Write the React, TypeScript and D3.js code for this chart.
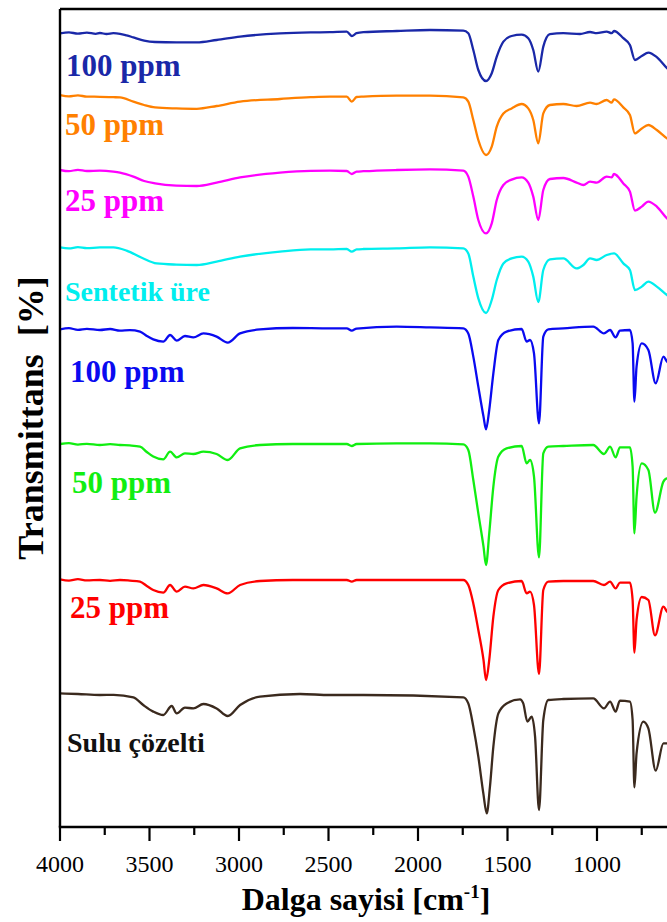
import React from 'react';
import * as d3 from 'd3';

// ---------- data ----------
const majorTicks = [4000, 3500, 3000, 2500, 2000, 1500, 1000, 500];
const tickLabels = [4000, 3500, 3000, 2500, 2000, 1500, 1000];
const minorTicks = [3750, 3250, 2750, 2250, 1750, 1250, 750];

const seriesNames = ['100 ppm', '50 ppm', '25 ppm', 'Sentetik üre', '100 ppm', '50 ppm', '25 ppm', 'Sulu çözelti'];
// vertical offsets of stacked spectra (a.u.)
const offsets = [298, 265.5, 228.5, 190, 150, 92, 24, -33.5];

// [wavenumber (cm-1), transmittance (%)]
const synth100: [number, number][] = [
  [4000, 98.8], [3950, 99.3], [3900, 98.7], [3850, 99.2], [3800, 98.6], [3777, 99.0], [3740, 98.5], [3702, 98.9],
  [3665, 98.6], [3628, 97.8], [3590, 96.8], [3530, 95.2], [3469, 94.5], [3350, 94.3], [3236, 94.3], [3125, 95.5],
  [2994, 97.2], [2771, 98.8], [2600, 99.3], [2492, 99.4], [2398, 99.7], [2370, 97.5], [2343, 98.9], [2305, 99.4],
  [2119, 100], [1933, 100.5], [1747, 100.2], [1719, 98.9], [1691, 90.5], [1663, 80.5], [1620, 75], [1588, 78.9],
  [1560, 87.2], [1523, 94.7], [1477, 97.5], [1421, 98.2], [1384, 96.4], [1356, 90.5], [1328, 79.7], [1300, 92.2],
  [1263, 98.4], [1188, 98.9], [1095, 98.5], [1039, 99.5], [1002, 98.9], [946, 99.7], [918, 98.9], [905, 100],
  [853, 96.4], [816, 93], [788, 85.5], [750, 87.5], [713, 89.2], [666, 86.9], [609, 81.4], [560, 78],
];
const synth50: [number, number][] = [
  [4000, 100.5], [3950, 99.8], [3900, 100.3], [3850, 99.7], [3777, 99.6], [3702, 99.4], [3665, 99.3], [3590, 97.2],
  [3530, 95.5], [3469, 94.3], [3350, 93.8], [3236, 93.6], [3125, 95], [2994, 97.2], [2771, 98.5], [2600, 99.4],
  [2492, 99.7], [2398, 99.7], [2370, 97.2], [2343, 99.5], [2305, 99.7], [2119, 100.2], [1933, 100.2], [1747, 99.3],
  [1719, 97.2], [1691, 88], [1663, 78], [1620, 70.5], [1588, 74.7], [1560, 84.7], [1523, 91.3], [1477, 93.8],
  [1421, 96], [1384, 93.8], [1356, 88], [1328, 76.3], [1300, 91.3], [1263, 95.5], [1188, 96], [1114, 95],
  [1039, 96.7], [1002, 96], [946, 98], [918, 96.7], [905, 98.3], [853, 94.3], [816, 90.5], [788, 81.3],
  [750, 83.8], [713, 85.5], [666, 83], [609, 78.8], [560, 76],
];
const synth25: [number, number][] = [
  [4000, 100], [3950, 99.4], [3900, 100.1], [3850, 99.5], [3777, 99.7], [3702, 99.2], [3665, 98.7], [3590, 96.7],
  [3530, 94.5], [3469, 93.3], [3350, 92.2], [3236, 92], [3125, 93.7], [2994, 96.3], [2771, 98.7], [2600, 99.6],
  [2492, 99.7], [2398, 99.5], [2370, 98], [2343, 99.2], [2305, 99.4], [2119, 100], [1933, 100.3], [1747, 99.7],
  [1719, 96.7], [1691, 86.7], [1663, 75], [1620, 68.3], [1588, 73.3], [1560, 85], [1523, 92.5], [1477, 95.2],
  [1421, 96.3], [1384, 93.7], [1356, 86.7], [1328, 75], [1300, 90], [1263, 95.5], [1188, 96], [1114, 93.7],
  [1076, 92.5], [1039, 94.2], [1002, 93.7], [946, 96.7], [918, 96.3], [905, 98], [853, 93.3], [816, 89.2],
  [788, 79.7], [750, 81.7], [713, 84.2], [666, 81.7], [609, 75.8], [560, 73],
];
const synthUrea: [number, number][] = [
  [4000, 99.8], [3950, 99.3], [3900, 99.9], [3850, 99.4], [3777, 99.8], [3702, 99.8], [3628, 98.2], [3540, 94.5],
  [3460, 91.8], [3350, 91.2], [3236, 91], [3125, 92.7], [2994, 95.2], [2771, 97.7], [2600, 98.8], [2492, 98.8],
  [2398, 99], [2370, 97.7], [2343, 98.8], [2305, 99], [2119, 99.3], [1933, 99.8], [1747, 99.3], [1719, 96.8],
  [1691, 85.2], [1663, 74.3], [1620, 67], [1588, 73.5], [1560, 83.5], [1523, 91.8], [1477, 94.3], [1421, 95.2],
  [1384, 92.7], [1356, 85.2], [1328, 72.5], [1300, 88.5], [1263, 93.8], [1188, 94.3], [1114, 89.3], [1076, 91],
  [1039, 94.3], [1002, 93.5], [946, 96], [905, 96.8], [853, 91.8], [816, 88.5], [788, 78.5], [750, 80.2],
  [713, 82.7], [666, 80.2], [609, 76], [560, 73],
];
const aq100: [number, number][] = [
  [4000, 98.8], [3950, 99.4], [3900, 98.6], [3850, 99.1], [3777, 98.5], [3720, 99], [3665, 98.2], [3610, 98.4],
  [3553, 97.7], [3515, 95.5], [3479, 93.8], [3423, 92.7], [3385, 96], [3348, 93.2], [3302, 95.5], [3255, 94.8],
  [3199, 96.8], [3125, 95.2], [3063, 92.2], [2994, 96.8], [2883, 98.8], [2700, 99.5], [2492, 99.3], [2398, 99.3],
  [2370, 98.2], [2343, 99.2], [2119, 100.2], [1933, 99.8], [1747, 99.3], [1719, 96.8], [1691, 85.2], [1663, 70.2],
  [1634, 55.2], [1620, 48.8], [1602, 58.5], [1579, 76.8], [1551, 93.5], [1505, 97.7], [1421, 99], [1393, 92.7],
  [1374, 93.5], [1352, 86.8], [1324, 51.8], [1300, 95.2], [1272, 98.8], [1188, 99.3], [1021, 100.2], [961, 96.8],
  [927, 98.5], [896, 94.8], [872, 98.2], [816, 98.5], [801, 91.8], [791, 62.7], [779, 80.2], [750, 91.8],
  [713, 88.5], [672, 71.8], [629, 85.2], [609, 82.7], [560, 80],
];
const aq50: [number, number][] = [
  [4000, 99.5], [3950, 99.9], [3900, 99.2], [3850, 99.6], [3777, 99], [3720, 99.4], [3665, 99], [3610, 98.8],
  [3553, 98.2], [3515, 95.5], [3479, 93.2], [3423, 91.8], [3385, 95.7], [3348, 92.8], [3302, 94.8], [3255, 94.5],
  [3199, 95.7], [3125, 94.5], [3063, 91.5], [2994, 97.3], [2883, 99], [2700, 99.5], [2492, 99.5], [2398, 99.5],
  [2370, 98.5], [2343, 99.5], [2119, 99.8], [1933, 99.8], [1747, 99.3], [1719, 96.5], [1691, 81.5], [1663, 64.8],
  [1634, 48.2], [1620, 39], [1602, 54.8], [1579, 78.2], [1551, 93.2], [1505, 97.3], [1421, 98.5], [1393, 89.8],
  [1374, 91.5], [1352, 83.2], [1324, 42.8], [1300, 94.8], [1272, 98.2], [1188, 98.5], [1021, 99], [961, 94.5],
  [927, 98.2], [896, 92.8], [872, 97.8], [816, 97.8], [801, 88.2], [791, 54.8], [779, 73.2], [750, 89.8],
  [713, 86.5], [676, 65.2], [629, 80.7], [609, 82.3], [560, 80],
];
const aq25: [number, number][] = [
  [4000, 99.8], [3950, 99.2], [3900, 99.9], [3850, 99.3], [3777, 99.5], [3720, 99.1], [3665, 99.5], [3610, 99.2],
  [3553, 98.7], [3515, 96.5], [3479, 94.5], [3423, 93.2], [3385, 97], [3348, 93.7], [3302, 96.2], [3255, 95.3],
  [3199, 97], [3125, 95.3], [3063, 92.8], [2994, 97], [2883, 99], [2700, 99.5], [2492, 99.5], [2398, 99.5],
  [2370, 98.7], [2343, 99.5], [2119, 99.5], [1933, 99.5], [1747, 99.5], [1719, 97], [1691, 87.8], [1663, 74.5],
  [1634, 59.5], [1620, 49.5], [1602, 59.5], [1579, 81.2], [1551, 94.5], [1505, 97.8], [1421, 99], [1393, 92.8],
  [1374, 93.7], [1352, 87], [1324, 52.5], [1300, 94.5], [1272, 98.7], [1188, 99], [1021, 99], [961, 97],
  [927, 98.7], [896, 95.3], [872, 98.2], [816, 98.2], [801, 89.5], [791, 63.2], [779, 79.5], [750, 91],
  [713, 89.5], [676, 71.8], [629, 86.2], [609, 83.7], [560, 81],
];
const aqBlank: [number, number][] = [
  [4000, 100.3], [3900, 100], [3777, 99.5], [3700, 99.6], [3590, 98.3], [3535, 94.5], [3479, 91.2], [3423, 89.5],
  [3376, 94], [3348, 90.3], [3302, 93.2], [3255, 92.8], [3199, 95], [3125, 92.8], [3063, 89], [2994, 94.5],
  [2883, 98.7], [2659, 100], [2492, 99.5], [2305, 99.5], [1747, 98.3], [1719, 95.3], [1691, 83.7], [1663, 68.7],
  [1635, 50.3], [1616, 40.3], [1598, 53.7], [1579, 73.7], [1551, 90.3], [1505, 95.3], [1430, 97.3], [1412, 95.3],
  [1389, 86.2], [1365, 88.7], [1346, 78.7], [1324, 42], [1300, 87], [1272, 97], [1188, 97.5], [1021, 97.8],
  [961, 92.8], [927, 96.2], [896, 91.2], [872, 96.7], [816, 96.2], [801, 87], [791, 53.3], [779, 70.3],
  [741, 86.2], [713, 82.8], [672, 61.7], [629, 75.3], [609, 75.3], [560, 73],
];

const spectra = [synth100, synth50, synth25, synthUrea, aq100, aq50, aq25, aqBlank];

// ---------- styling / layout ----------
const lineColors = ['#1a28a8', '#ff8000', '#ff00ff', '#00eeee', '#0a0af0', '#11ee11', '#ff0000', '#3b2a1e'];
const labelColors = ['#1a28a8', '#ff8000', '#ff00ff', '#00eeee', '#0a0af0', '#11ee11', '#ff0000', '#111111'];
const labelX = [66, 65, 65, 65, 70, 72, 70, 67];
const labelY = [76, 135, 211, 301, 382, 493, 618, 752];
const labelSize = [31, 31, 31, 28, 31, 31, 31, 28];

const W = 667;
const H = 922;
const PL = 60;
const PR = 704.4;
const PT = 9;
const PB = 827;
const FONT = "'Liberation Serif', 'Times New Roman', Times, serif";

export default function App() {
  const x = d3.scaleLinear().domain([4000, 400]).range([PL, PR]);
  const y = d3.scaleLinear().domain([0, 409]).range([PB, PT]);

  const paths = spectra.map((s, i) => {
    const line = d3
      .line<[number, number]>()
      .x((d) => x(d[0]))
      .y((d) => y(d[1] + offsets[i]))
      .curve(d3.curveMonotoneX);
    return line([...s].sort((a, b) => b[0] - a[0])) || '';
  });

  const txt = { fontFamily: FONT };

  return (
    <svg width={W} height={H} style={{ position: 'absolute', left: 0, top: 0, background: '#fff' }}>
      <defs>
        <clipPath id="plotClip">
          <rect x={PL} y={PT} width={PR - PL} height={PB - PT} />
        </clipPath>
      </defs>
      <rect x={0} y={0} width={W} height={H} fill="#fff" />
      <g clipPath="url(#plotClip)">
        {paths.map((p, i) => (
          <path key={i} d={p} fill="none" stroke={lineColors[i]} strokeWidth={2.3} strokeLinejoin="round" />
        ))}
      </g>
      {/* frame */}
      <g stroke="#000" strokeWidth={2.4} fill="none">
        <line x1={PL} y1={PT} x2={PR} y2={PT} />
        <line x1={PL} y1={PT} x2={PL} y2={PB} />
        <line x1={PL - 1.2} y1={PB} x2={PR} y2={PB} />
        <line x1={PR} y1={PT} x2={PR} y2={PB} />
      </g>
      {/* ticks */}
      <g stroke="#000" strokeWidth={2.2}>
        {majorTicks.map((t) => (
          <line key={'M' + t} x1={x(t)} x2={x(t)} y1={PB} y2={PB + 14} />
        ))}
        {minorTicks.map((t) => (
          <line key={'m' + t} x1={x(t)} x2={x(t)} y1={PB} y2={PB + 8} />
        ))}
      </g>
      <g fontSize={24} textAnchor="middle" fill="#000" style={txt}>
        {tickLabels.map((t) => (
          <text key={'t' + t} x={x(t)} y={872} style={txt}>
            {t}
          </text>
        ))}
      </g>
      {/* axis titles */}
      <text x={366} y={910} textAnchor="middle" fontSize={32} fontWeight="bold" fill="#000" style={txt}>
        Dalga sayisi [cm
        <tspan dy={-12} fontSize={19}>-1</tspan>
        <tspan dy={12}>]</tspan>
      </text>
      <text
        transform="translate(43,418) rotate(-90)"
        textAnchor="middle"
        fontSize={36}
        fontWeight="bold"
        fill="#000"
        style={{ ...txt, whiteSpace: 'pre' }}
      >
        {'Transmittans  [%]'}
      </text>
      {/* series labels */}
      {seriesNames.map((n, i) => (
        <text
          key={'l' + i}
          x={labelX[i]}
          y={labelY[i]}
          fontSize={labelSize[i]}
          fontWeight="bold"
          fill={labelColors[i]}
          style={txt}
        >
          {n}
        </text>
      ))}
    </svg>
  );
}
